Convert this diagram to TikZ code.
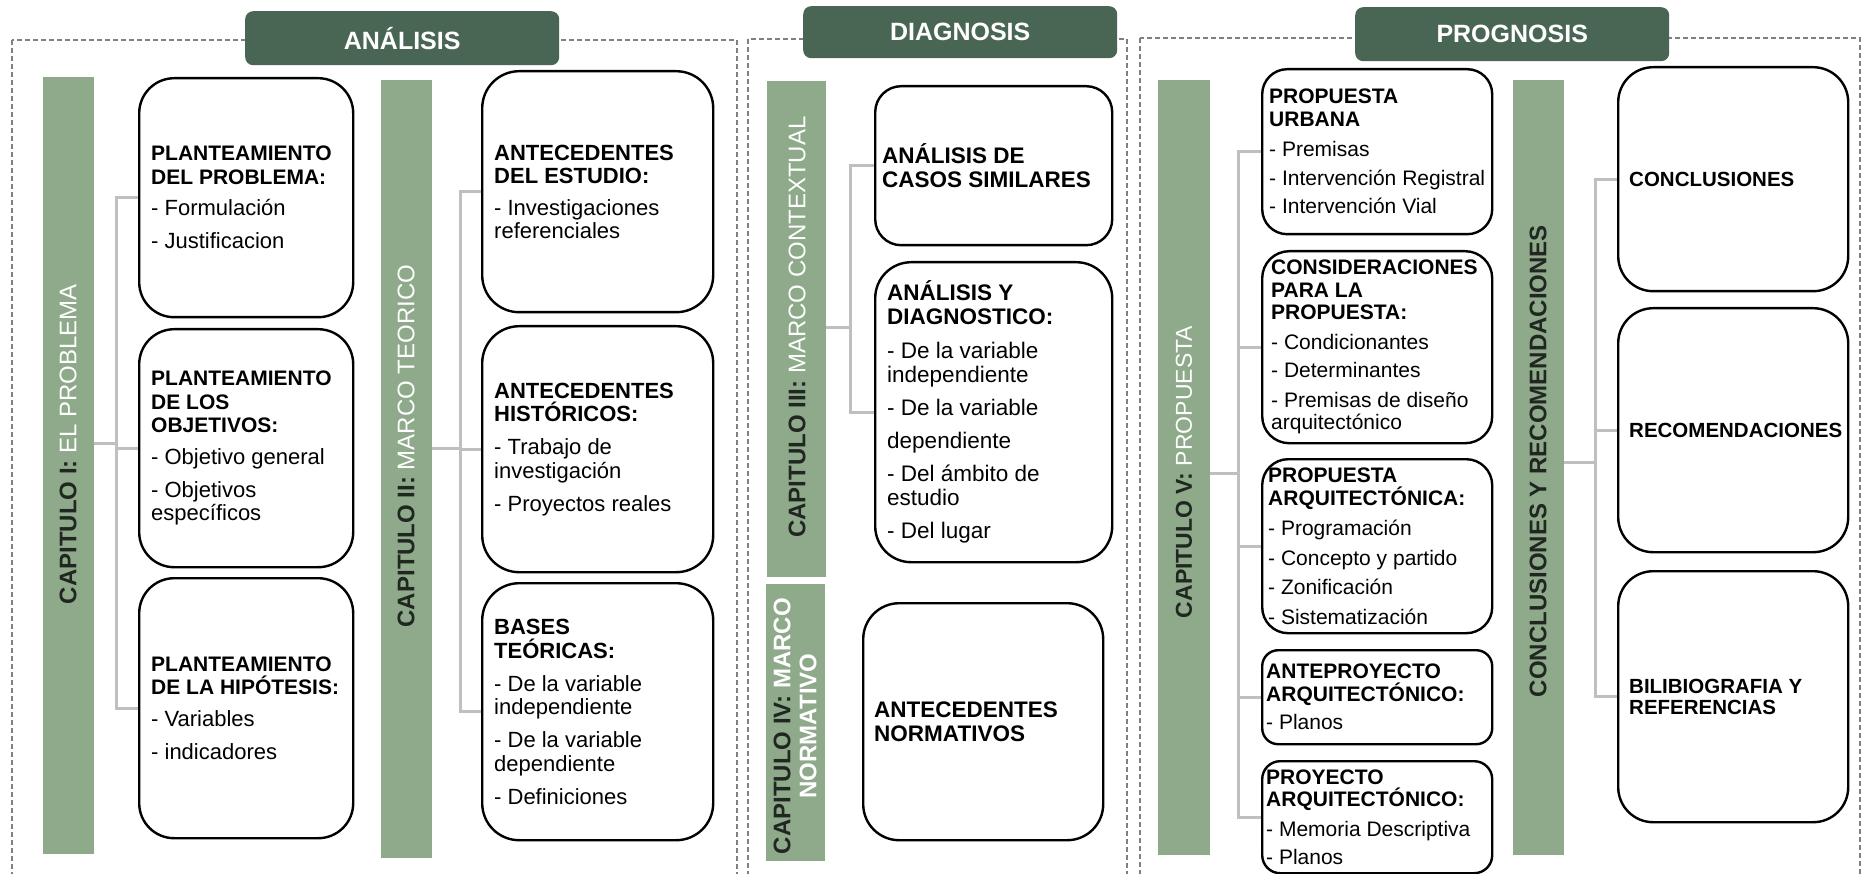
\documentclass[tikz,border=0pt]{standalone}
\usepackage{fontspec}
\setmainfont{Liberation Sans}
\definecolor{hdrgreen}{RGB}{73,102,84}
\definecolor{bargreen}{RGB}{143,170,139}
\definecolor{linkgray}{RGB}{191,191,191}
\definecolor{framegray}{RGB}{128,128,128}
\definecolor{bardark}{RGB}{32,38,32}
\tikzset{
  frame/.style={draw=framegray, line width=1.3pt, dash pattern=on 5pt off 3pt},
  hdr/.style={fill=hdrgreen, rounded corners=8pt, text=white, font=\fontsize{25}{30}\selectfont\bfseries, inner sep=0pt, anchor=north west},
  bar/.style={fill=bargreen, inner sep=0pt, anchor=north west},
  cbox/.style={draw=black, line width=2.4pt, fill=white, inner sep=0pt, anchor=north west},
  link/.style={draw=linkgray, line width=3pt},
  vlab/.style={rotate=90, inner sep=0pt, font=\fontsize{24}{26}\selectfont, text=white},
  atxt/.style={anchor=west, align=left, inner sep=0pt, font=\fontsize{22}{23.5}\selectfont},
  ptxt/.style={anchor=west, align=left, inner sep=0pt, font=\fontsize{21}{22.5}\selectfont},
  dtxt/.style={anchor=west, align=left, inner sep=0pt, font=\fontsize{22.5}{24}\selectfont},
}
\newcommand\mkbox[7]{\node[#1, minimum width={#5-#3}, minimum height={#6-#4}, rounded corners=#7pt] (#2) at (#3,#4) {};}
\newcommand\hb[1]{{\fontsize{21}{23.5}\selectfont\bfseries #1}}
\begin{document}
\begin{tikzpicture}[x=1pt,y=-1pt]
\fill[white] (0,0) rectangle (1862,874);
\useasboundingbox (0,0) rectangle (1862,874);
% frames
\draw[frame] (12,40) rectangle (737,900);
\draw[frame] (748,39) rectangle (1127,900);
\draw[frame] (1140,38) rectangle (1860,900);
% bars
\mkbox{bar}{bar1}{43}{77}{94}{854}{0}
\mkbox{bar}{bar2}{381}{80}{432}{858}{0}
\mkbox{bar}{bar3}{767}{81}{826}{577}{0}
\mkbox{bar}{bar4}{766}{584}{825}{861}{0}
\mkbox{bar}{bar5}{1158}{80}{1210}{855}{0}
\mkbox{bar}{bar6}{1513}{80}{1564}{855}{0}
% boxes
\mkbox{cbox}{b11}{138}{77}{352}{316}{35}
\mkbox{cbox}{b12}{138}{328}{352}{566}{35}
\mkbox{cbox}{b13}{138}{577}{352}{837}{35}
\mkbox{cbox}{b21}{481}{70}{712}{311}{37}
\mkbox{cbox}{b22}{481}{325}{712}{571}{37}
\mkbox{cbox}{b23}{481}{582}{712}{839}{37}
\mkbox{cbox}{d1}{874}{85}{1111}{244}{26}
\mkbox{cbox}{d2}{874}{261}{1111}{561}{36}
\mkbox{cbox}{d3}{862}{602}{1102}{839}{36}
\mkbox{cbox}{p1}{1261}{68}{1491}{233}{25}
\mkbox{cbox}{p2}{1261}{250}{1491}{442}{27}
\mkbox{cbox}{p3}{1261}{458}{1491}{632}{26}
\mkbox{cbox}{p4}{1261}{649}{1491}{743}{16}
\mkbox{cbox}{p5}{1261}{760}{1491}{872}{18}
\mkbox{cbox}{r1}{1617}{66}{1847}{290}{35}
\mkbox{cbox}{r2}{1617}{307}{1847}{551}{35}
\mkbox{cbox}{r3}{1617}{570}{1847}{821}{35}
% connectors
\coordinate (j1) at (116,443);
\draw[link] (bar1.east |- j1) -- (j1);
\draw[link] (b11.west) -- (b11.west -| j1) -- (b13.west -| j1) -- (b13.west);
\draw[link] (b12.west) -- (b12.west -| j1);
\coordinate (j2) at (460,448);
\draw[link] (bar2.east |- j2) -- (j2);
\draw[link] (b21.west) -- (b21.west -| j2) -- (b23.west -| j2) -- (b23.west);
\draw[link] (b22.west) -- (b22.west -| j2);
\coordinate (j3) at (850,328);
\draw[link] (bar3.east |- j3) -- (j3);
\draw[link] (d1.west) -- (d1.west -| j3) -- (d2.west -| j3) -- (d2.west);
\coordinate (j5) at (1238,473);
\draw[link] (bar5.east |- j5) -- (j5);
\draw[link] (p1.west) -- (p1.west -| j5) -- (p5.west -| j5) -- (p5.west);
\draw[link] (p2.west) -- (p2.west -| j5);
\draw[link] (p3.west) -- (p3.west -| j5);
\draw[link] (p4.west) -- (p4.west -| j5);
\coordinate (j6) at (1595,462);
\draw[link] (bar6.east |- j6) -- (j6);
\draw[link] (r1.west) -- (r1.west -| j6) -- (r3.west -| j6) -- (r3.west);
\draw[link] (r2.west) -- (r2.west -| j6);
% bar labels
\node[vlab] (bar1t) at (68,444) {\textcolor{bardark}{\bfseries CAPITULO I:} EL PROBLEMA};
\node[vlab] (bar2t) at (406,446) {\textcolor{bardark}{\bfseries CAPITULO II:} MARCO TEORICO};
\node[vlab] (bar3t) at (797,327) {\textcolor{bardark}{\bfseries CAPITULO III:} MARCO CONTEXTUAL};
\node[vlab, align=center] (bar4t) at (795,726) {\textcolor{bardark}{\bfseries CAPITULO IV:} \textbf{MARCO}\\\textbf{NORMATIVO}};
\node[vlab, font=\fontsize{23}{26}\selectfont] (bar5t) at (1184,472) {\textcolor{bardark}{\bfseries CAPITULO V:} PROPUESTA};
\node[vlab, text=bardark, font=\fontsize{24}{26}\selectfont\bfseries] (bar6t) at (1538,461) {CONCLUSIONES Y RECOMENDACIONES};
% box texts
\node[atxt] (b11t) at ([xshift=13pt]b11.west) {\hb{PLANTEAMIENTO}\\\hb{DEL PROBLEMA:}\\[8pt]- Formulación\\[9.5pt]- Justificacion};
\node[atxt] (b12t) at ([xshift=13pt]b12.west) {\hb{PLANTEAMIENTO}\\\hb{DE LOS}\\\hb{OBJETIVOS:}\\[8pt]- Objetivo general\\[9.5pt]- Objetivos\\específicos};
\node[atxt] (b13t) at ([xshift=13pt]b13.west) {\hb{PLANTEAMIENTO}\\\hb{DE LA HIPÓTESIS:}\\[8pt]- Variables\\[9.5pt]- indicadores};
\node[atxt] (b21t) at ([xshift=13pt]b21.west) {\textbf{ANTECEDENTES}\\\textbf{DEL ESTUDIO:}\\[8pt]- Investigaciones\\referenciales};
\node[atxt] (b22t) at ([xshift=13pt]b22.west) {\textbf{ANTECEDENTES}\\\textbf{HISTÓRICOS:}\\[9.5pt]- Trabajo de\\investigación\\[9.5pt]- Proyectos reales};
\node[atxt] (b23t) at ([xshift=13pt]b23.west) {\textbf{BASES}\\\textbf{TEÓRICAS:}\\[9.5pt]- De la variable\\independiente\\[9.5pt]- De la variable\\dependiente\\[9.5pt]- Definiciones};
\node[dtxt] (d1t) at ([xshift=8pt]d1.west) {\textbf{ANÁLISIS DE}\\\textbf{CASOS SIMILARES}};
\node[dtxt] (d2t) at ([xshift=13pt]d2.west) {\textbf{ANÁLISIS Y}\\\textbf{DIAGNOSTICO:}\\[10pt]- De la variable\\independiente\\[9pt]- De la variable\\[9pt]dependiente\\[9pt]- Del ámbito de\\estudio\\[9pt]- Del lugar};
\node[dtxt] (d3t) at ([xshift=12pt]d3.west) {\textbf{ANTECEDENTES}\\\textbf{NORMATIVOS}};
\node[ptxt] (p1t) at ([xshift=8pt]p1.west) {\textbf{PROPUESTA}\\\textbf{URBANA}\\[8pt]- Premisas\\[6pt]- Intervención Registral\\[6pt]- Intervención Vial};
\node[ptxt] (p2t) at ([xshift=10pt]p2.west) {\textbf{CONSIDERACIONES}\\\textbf{PARA LA}\\\textbf{PROPUESTA:}\\[7pt]- Condicionantes\\[6pt]- Determinantes\\[7pt]- Premisas de diseño\\arquitectónico};
\node[ptxt] (p3t) at ([xshift=7pt]p3.west) {\textbf{PROPUESTA}\\\textbf{ARQUITECTÓNICA:}\\[8pt]- Programación\\[7pt]- Concepto y partido\\[7pt]- Zonificación\\[7pt]- Sistematización};
\node[ptxt] (p4t) at ([xshift=5pt]p4.west) {\textbf{ANTEPROYECTO}\\\textbf{ARQUITECTÓNICO:}\\[6pt]- Planos};
\node[ptxt] (p5t) at ([xshift=5pt]p5.west) {\textbf{PROYECTO}\\\textbf{ARQUITECTÓNICO:}\\[7pt]- Memoria Descriptiva\\[6pt]- Planos};
\node[ptxt, font=\fontsize{20.5}{21.5}\selectfont\bfseries] (r1t) at ([xshift=12pt]r1.west) {CONCLUSIONES};
\node[ptxt, font=\fontsize{20.5}{21.5}\selectfont\bfseries] (r2t) at ([xshift=12pt]r2.west) {RECOMENDACIONES};
\node[ptxt, font=\fontsize{20.5}{21.5}\selectfont\bfseries] (r3t) at ([xshift=12pt]r3.west) {BILIBIOGRAFIA Y\\REFERENCIAS};
% headers
\node[hdr, minimum width=314, minimum height=54] (h1) at (245,11) {ANÁLISIS};
\node[hdr, minimum width=314, minimum height=52] (h2) at (803,6) {DIAGNOSIS};
\node[hdr, minimum width=314, minimum height=54] (h3) at (1355,7) {PROGNOSIS};
\end{tikzpicture}
\end{document}
